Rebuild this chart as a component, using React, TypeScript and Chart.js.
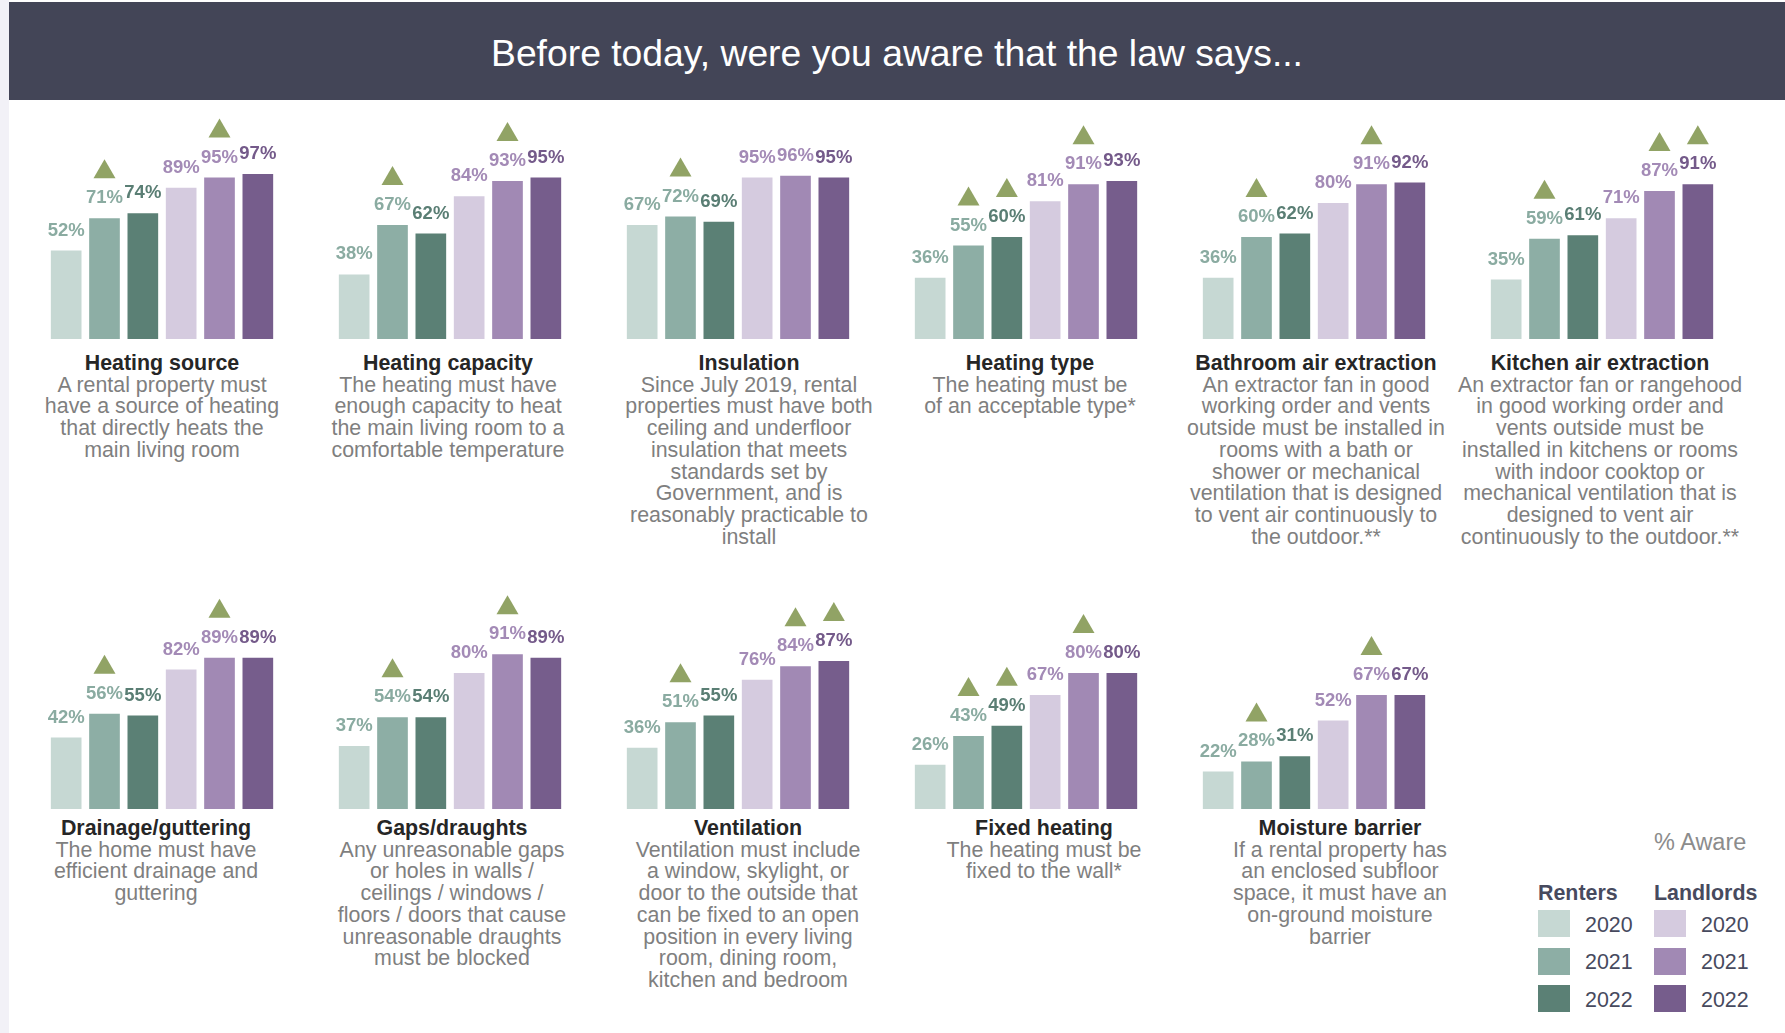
import React, { useEffect, useRef } from 'react';
import { Chart, registerables } from 'chart.js';
Chart.register(...registerables);

// ---------- DATA ----------
const topics = [
  'Heating source', 'Heating capacity', 'Insulation', 'Heating type',
  'Bathroom air extraction', 'Kitchen air extraction',
  'Drainage/guttering', 'Gaps/draughts', 'Ventilation', 'Fixed heating', 'Moisture barrier',
];

const descriptions: string[][] = [
  ['A rental property must', 'have a source of heating', 'that directly heats the', 'main living room'],
  ['The heating must have', 'enough capacity to heat', 'the main living room to a', 'comfortable temperature'],
  ['Since July 2019, rental', 'properties must have both', 'ceiling and underfloor', 'insulation that meets', 'standards set by', 'Government, and is', 'reasonably practicable to', 'install'],
  ['The heating must be', 'of an acceptable type*'],
  ['An extractor fan in good', 'working order and vents', 'outside must be installed in', 'rooms with a bath or', 'shower or mechanical', 'ventilation that is designed', 'to vent air continuously to', 'the outdoor.**'],
  ['An extractor fan or rangehood', 'in good working order and', 'vents outside must be', 'installed in kitchens or rooms', 'with indoor cooktop or', 'mechanical ventilation that is', 'designed to vent air', 'continuously to the outdoor.**'],
  ['The home must have', 'efficient drainage and', 'guttering'],
  ['Any unreasonable gaps', 'or holes in walls /', 'ceilings / windows /', 'floors / doors that cause', 'unreasonable draughts', 'must be blocked'],
  ['Ventilation must include', 'a window, skylight, or', 'door to the outside that', 'can be fixed to an open', 'position in every living', 'room, dining room,', 'kitchen and bedroom'],
  ['The heating must be', 'fixed to the wall*'],
  ['If a rental property has', 'an enclosed subfloor', 'space, it must have an', 'on-ground moisture', 'barrier'],
];

const seriesNames = ['Renters 2020', 'Renters 2021', 'Renters 2022', 'Landlords 2020', 'Landlords 2021', 'Landlords 2022'];
const renters2020 = [52, 38, 67, 36, 36, 35, 42, 37, 36, 26, 22];
const renters2021 = [71, 67, 72, 55, 60, 59, 56, 54, 51, 43, 28];
const renters2022 = [74, 62, 69, 60, 62, 61, 55, 54, 55, 49, 31];
const landlords2020 = [89, 84, 95, 81, 80, 71, 82, 80, 76, 67, 52];
const landlords2021 = [95, 93, 96, 91, 91, 87, 89, 91, 84, 80, 67];
const landlords2022 = [97, 95, 95, 93, 92, 91, 89, 89, 87, 80, 67];
const allSeries = [renters2020, renters2021, renters2022, landlords2020, landlords2021, landlords2022];

// series indices marked with a significant-increase triangle, per topic
const significantRise = [[1, 4], [1, 4], [1], [1, 2, 4], [1, 4], [1, 4, 5], [1, 4], [1, 4], [1, 4, 5], [1, 2, 4], [1, 4]];

const legendYears = ['2020', '2021', '2022'];

// ---------- STYLE / LAYOUT ----------
const FONT = '"Liberation Sans", Arial, Helvetica, sans-serif';
const barColors = ['#c6d8d3', '#8daea5', '#5b8075', '#d5cbdf', '#a189b4', '#765d8c'];
const labelColors = ['#8aaba1', '#8aaba1', '#5a7e74', '#a38ab6', '#a38ab6', '#745a8a'];
const labelWeights = ['bold', '600', 'bold', 'bold', '600', 'bold'];
const triangleColor = '#91a365';
const textCenters = [162, 448, 749, 1030, 1316, 1600, 156, 452, 748, 1044, 1340];
const CANVAS_W = 230;
const CANVAS_H = 238;
const rowCanvasTop = [100.7, 570.7];
const rowTextTop = [353, 818];

const labelPlugin = {
  id: 'valueLabels',
  afterDatasetsDraw(chart: any) {
    const ctx = chart.ctx;
    const idx = chart.options.plugins.valueLabels.topicIndex;
    ctx.save();
    chart.data.datasets.forEach((ds: any, k: number) => {
      const el = chart.getDatasetMeta(k).data[0];
      if (!el) return;
      const x = el.x;
      const y = el.y;
      ctx.font = `${labelWeights[k]} 18.5px ${FONT}`;
      ctx.fillStyle = labelColors[k];
      ctx.textAlign = 'center';
      ctx.textBaseline = 'alphabetic';
      ctx.fillText(`${ds.data[0]}%`, x, y - 15);
      if (significantRise[idx].includes(k)) {
        ctx.fillStyle = triangleColor;
        ctx.beginPath();
        ctx.moveTo(x, y - 59);
        ctx.lineTo(x + 11, y - 40);
        ctx.lineTo(x - 11, y - 40);
        ctx.closePath();
        ctx.fill();
      }
    });
    ctx.restore();
  },
};

function Panel({ index }: { index: number }) {
  const ref = useRef<HTMLCanvasElement>(null);
  useEffect(() => {
    if (!ref.current) return;
    const chart = new Chart(ref.current, {
      type: 'bar',
      data: {
        labels: [topics[index]],
        datasets: allSeries.map((s, k) => ({
          label: seriesNames[k],
          data: [s[index]],
          backgroundColor: barColors[k],
          borderWidth: 0,
          categoryPercentage: 1,
          barPercentage: 0.8,
        })),
      },
      options: {
        animation: false,
        responsive: false,
        maintainAspectRatio: false,
        devicePixelRatio: 1,
        layout: { padding: 0 },
        events: [],
        plugins: {
          legend: { display: false },
          tooltip: { enabled: false },
          valueLabels: { topicIndex: index },
        } as any,
        scales: {
          x: { display: false },
          y: { display: false, min: 0, max: 140 },
        },
      },
      plugins: [labelPlugin],
    });
    return () => chart.destroy();
  }, [index]);

  const row = index < 6 ? 0 : 1;
  const col = index < 6 ? index : index - 6;
  const left = 47.2 + col * 288;
  return (
    <>
      <canvas
        ref={ref}
        width={CANVAS_W}
        height={CANVAS_H}
        style={{ position: 'absolute', left, top: rowCanvasTop[row], width: CANVAS_W, height: CANVAS_H }}
      />
      <div
        style={{
          position: 'absolute',
          left: textCenters[index] - 170,
          top: rowTextTop[row],
          width: 340,
          textAlign: 'center',
          fontFamily: FONT,
          fontSize: 21.4,
          lineHeight: '21.7px',
          whiteSpace: 'nowrap',
        }}
      >
        <div style={{ fontWeight: 'bold', color: '#262626' }}>{topics[index]}</div>
        {descriptions[index].map((l, j) => (
          <div key={j} style={{ color: '#7f7f7f' }}>{l}</div>
        ))}
      </div>
    </>
  );
}

export default function App() {
  const legendRow = (x: number, colorOffset: number, title: string) => (
    <>
      <div style={{ position: 'absolute', left: x, top: 881, fontFamily: FONT, fontSize: 21.4, fontWeight: 'bold', color: '#474a5e', lineHeight: '24px', whiteSpace: 'nowrap' }}>{title}</div>
      {legendYears.map((y, j) => (
        <React.Fragment key={y}>
          <div style={{ position: 'absolute', left: x, top: 910 + j * 37.5, width: 32, height: 27, background: barColors[colorOffset + j] }} />
          <div style={{ position: 'absolute', left: x + 47, top: 912.5 + j * 37.5, fontFamily: FONT, fontSize: 21.4, color: '#474a5e', lineHeight: '24px' }}>{y}</div>
        </React.Fragment>
      ))}
    </>
  );
  return (
    <div style={{ position: 'absolute', left: 0, top: 0, width: 1785, height: 1033, background: '#ffffff', overflow: 'hidden' }}>
      <div style={{ position: 'absolute', left: 0, top: 0, width: 9, height: 1033, background: '#f2f1f7' }} />
      <div style={{ position: 'absolute', left: 9, top: 2, width: 1776, height: 98, background: '#434557' }} />
      <div style={{ position: 'absolute', left: 9, top: 33, width: 1776, textAlign: 'center', fontFamily: FONT, fontSize: 37.3, lineHeight: '40px', color: '#ffffff', whiteSpace: 'nowrap' }}>
        Before today, were you aware that the law says...
      </div>
      {topics.map((_, i) => (
        <Panel key={i} index={i} />
      ))}
      <div style={{ position: 'absolute', left: 1654, top: 828, fontFamily: FONT, fontSize: 23.5, color: '#8c8c8c', lineHeight: '28px', whiteSpace: 'nowrap' }}>% Aware</div>
      {legendRow(1538, 0, 'Renters')}
      {legendRow(1654, 3, 'Landlords')}
    </div>
  );
}
